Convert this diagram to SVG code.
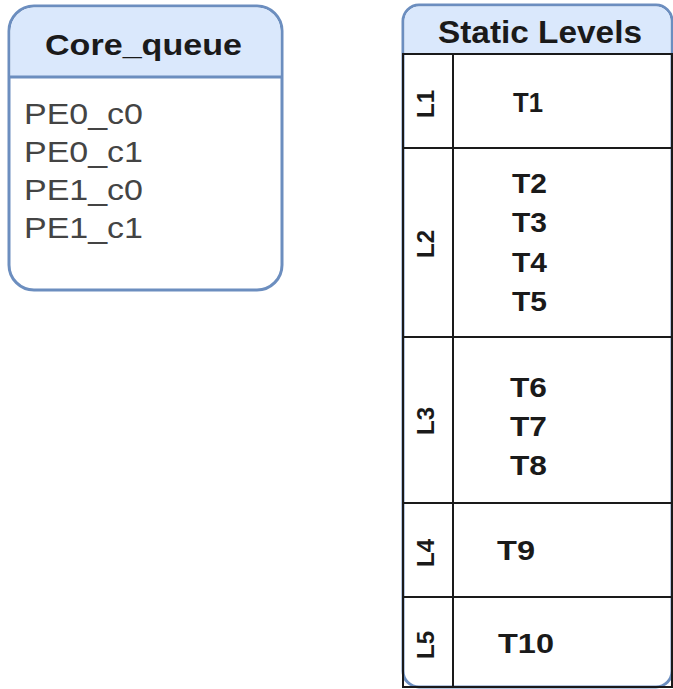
<svg xmlns="http://www.w3.org/2000/svg" width="673" height="689" viewBox="0 0 673 689">
  <style>
    .box { fill: #ffffff; stroke: #6c8ebf; stroke-width: 3; }
    .head { fill: #dae8fc; }
    .sep { stroke: #6c8ebf; stroke-width: 3; fill: none; }
    .lane { fill: none; stroke: #1a1a1a; stroke-width: 2; }
    .title { font-family: "Liberation Sans", Arial, sans-serif; font-weight: bold; fill: #1a1a1a; text-anchor: middle; }
    .item { font-family: "Liberation Sans", Arial, sans-serif; font-size: 30px; fill: #444444; }
    .lbl { font-family: "Liberation Sans", Arial, sans-serif; font-size: 24px; font-weight: bold; fill: #1a1a1a; text-anchor: middle; }
    .task { font-family: "Liberation Sans", Arial, sans-serif; font-size: 28px; font-weight: bold; fill: #1a1a1a; }
  </style>

  <!-- Core queue list -->
  <g id="core_queue">
    <rect class="box" x="9" y="6" width="273" height="284" rx="25" ry="25"/>
    <path class="head" d="M10.5,77 V31 A23.5,23.5 0 0 1 34,7.5 H257 A23.5,23.5 0 0 1 280.5,31 V77 Z"/>
    <line class="sep" x1="9" y1="77" x2="282" y2="77"/>
    <text class="title" x="143.5" y="55" font-size="30" textLength="197" lengthAdjust="spacingAndGlyphs">Core_queue</text>
    <text class="item" x="24" y="124" textLength="119" lengthAdjust="spacingAndGlyphs">PE0_c0</text>
    <text class="item" x="24" y="162" textLength="119" lengthAdjust="spacingAndGlyphs">PE0_c1</text>
    <text class="item" x="24" y="200" textLength="119" lengthAdjust="spacingAndGlyphs">PE1_c0</text>
    <text class="item" x="24" y="238" textLength="119" lengthAdjust="spacingAndGlyphs">PE1_c1</text>
  </g>

  <!-- Static levels pool -->
  <g id="static_levels">
    <rect class="box" x="403" y="5" width="269" height="682" rx="16" ry="16"/>
    <path class="head" d="M404.5,53 V20 A14.5,14.5 0 0 1 419,6.5 H656 A14.5,14.5 0 0 1 670.5,20 V53 Z"/>
    <text class="title" x="540" y="43" font-size="31" textLength="204" lengthAdjust="spacingAndGlyphs">Static Levels</text>
  </g>

  <g id="lane_L1">
    <rect class="lane" x="403" y="54" width="269" height="94"/>
    <line class="lane" x1="453" y1="54" x2="453" y2="148"/>
    <text class="lbl" transform="translate(434,104) rotate(-90)">L1</text>
    <text class="task" x="513" y="112" textLength="30" lengthAdjust="spacingAndGlyphs">T1</text>
  </g>

  <g id="lane_L2">
    <rect class="lane" x="403" y="148" width="269" height="189"/>
    <line class="lane" x1="453" y1="148" x2="453" y2="337"/>
    <text class="lbl" transform="translate(434,244) rotate(-90)">L2</text>
    <text class="task" x="512" y="193" textLength="35" lengthAdjust="spacingAndGlyphs">T2</text>
    <text class="task" x="512" y="232" textLength="35" lengthAdjust="spacingAndGlyphs">T3</text>
    <text class="task" x="512" y="272" textLength="35" lengthAdjust="spacingAndGlyphs">T4</text>
    <text class="task" x="512" y="311" textLength="35" lengthAdjust="spacingAndGlyphs">T5</text>
  </g>

  <g id="lane_L3">
    <rect class="lane" x="403" y="337" width="269" height="166"/>
    <line class="lane" x1="453" y1="337" x2="453" y2="503"/>
    <text class="lbl" transform="translate(434,421) rotate(-90)">L3</text>
    <text class="task" x="510" y="397" textLength="37" lengthAdjust="spacingAndGlyphs">T6</text>
    <text class="task" x="510" y="436" textLength="37" lengthAdjust="spacingAndGlyphs">T7</text>
    <text class="task" x="510" y="475" textLength="37" lengthAdjust="spacingAndGlyphs">T8</text>
  </g>

  <g id="lane_L4">
    <rect class="lane" x="403" y="503" width="269" height="94"/>
    <line class="lane" x1="453" y1="503" x2="453" y2="597"/>
    <text class="lbl" transform="translate(434,553) rotate(-90)">L4</text>
    <text class="task" x="497" y="560" textLength="38" lengthAdjust="spacingAndGlyphs">T9</text>
  </g>

  <g id="lane_L5">
    <rect class="lane" x="403" y="597" width="269" height="90"/>
    <line class="lane" x1="453" y1="597" x2="453" y2="687"/>
    <text class="lbl" transform="translate(434,645) rotate(-90)">L5</text>
    <text class="task" x="498" y="653" textLength="56" lengthAdjust="spacingAndGlyphs">T10</text>
  </g>

  <!-- no connectors in this diagram -->
  <g id="connectors"/>
</svg>
